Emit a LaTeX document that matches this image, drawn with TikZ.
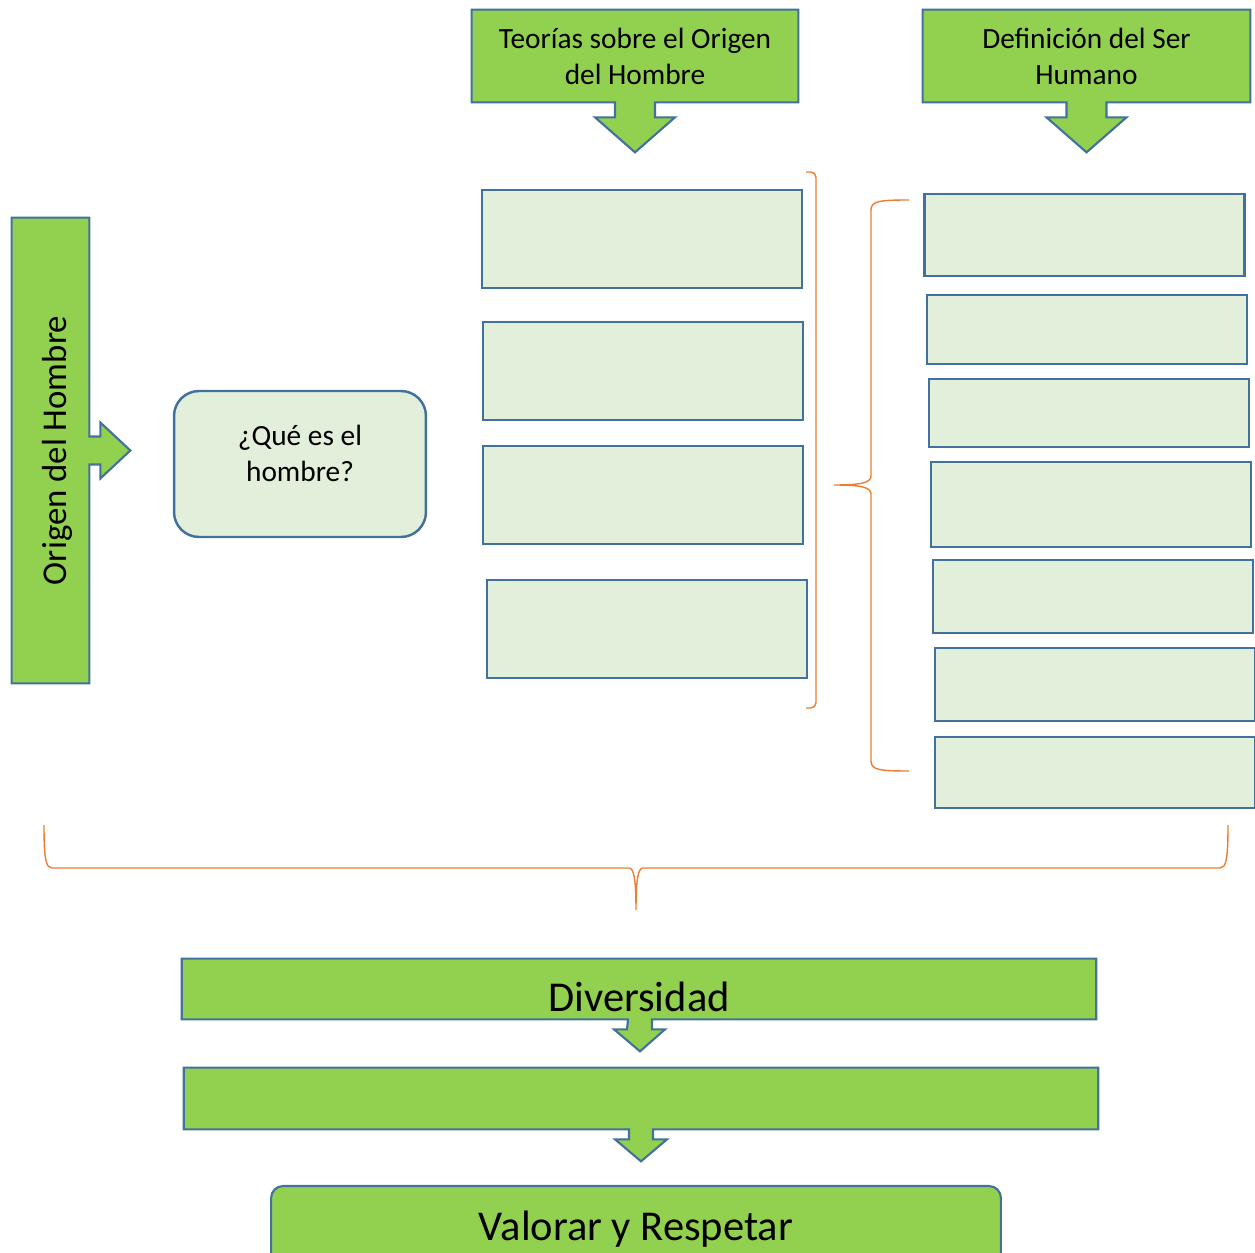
\documentclass[tikz,border=0pt]{standalone}
\usepackage{fontspec}
\setmainfont{Carlito}
\usetikzlibrary{calc,backgrounds}

\definecolor{boxgreen}{RGB}{146,208,80}
\definecolor{paleg}{RGB}{226,239,218}
\definecolor{edgeblue}{RGB}{65,113,156}
\definecolor{braceorange}{RGB}{237,125,49}

\begin{document}
\begin{tikzpicture}[x=0.02cm, y=-0.02cm,
    callout/.style={fill=boxgreen, draw=edgeblue, line width=1.2pt},
    calltext/.style={align=center, font=\fontsize{16.7}{20.5}\selectfont},
    emptybox/.style={fill=paleg, draw=edgeblue, line width=1.4pt, minimum width=6.4cm},
    brace/.style={draw=braceorange, line width=0.8pt}]
  \useasboundingbox (0,0) rectangle (1255,1253);

  \node[calltext, minimum width=6.52cm, minimum height=1.84cm] (teorias) at (635,56) {Teorías sobre el Origen\\del Hombre};
  \node[calltext, minimum width=6.54cm, minimum height=1.84cm] (definicion) at (1086.5,56) {Definición del Ser\\Humano};
  \node[minimum width=1.54cm, minimum height=9.3cm] (origen) at (50.5,450.5) {\hspace{8pt}\rotatebox{90}{\fontsize{19.8}{24}\selectfont Origen del Hombre}};
  \node[calltext, fill=paleg, draw=edgeblue, line width=1.4pt, rounded corners=0.5cm, minimum width=5.04cm, minimum height=2.92cm, text depth=12.5pt] (que) at (300,464) {¿Qué es el\\hombre?};

  \node[emptybox, minimum height=1.96cm] (t1) at (642,239) {};
  \node[emptybox, minimum height=1.96cm] (t2) at (643,371) {};
  \node[emptybox, minimum height=1.96cm] (t3) at (643,495) {};
  \node[emptybox, minimum height=1.96cm] (t4) at (647,629) {};

  \node[emptybox, minimum height=1.64cm] (d1) at (1084.5,235) {};
  \node[emptybox, minimum height=1.38cm] (d2) at (1087,329.5) {};
  \node[emptybox, minimum height=1.36cm] (d3) at (1089,413) {};
  \node[emptybox, minimum height=1.7cm] (d4) at (1091,504.5) {};
  \node[emptybox, minimum height=1.46cm] (d5) at (1093,596.5) {};
  \node[emptybox, minimum height=1.46cm] (d6) at (1095,684.5) {};
  \node[emptybox, minimum height=1.42cm] (d7) at (1095,772.5) {};

  \draw[brace, rounded corners=3] (806,172) -- (816,172) -- (816,708) -- (806,708);
  \draw[brace] (909,200) .. controls (880,200) and (871,201) .. (871,210) -- (871,476)
    .. controls (871,483) and (860,485) .. (834,485) .. controls (860,485) and (871,487) .. (871,494)
    -- (871,761) .. controls (871,770) and (880,771) .. (909,771);
  \draw[brace] (44,825) .. controls (44,860) and (46,868) .. (52,868) -- (629,868)
    .. controls (634,868) and (636,880) .. (636,910) .. controls (636,880) and (638,868) .. (643,868)
    -- (1220,868) .. controls (1226,868) and (1228,860) .. (1228,825);

  \node[minimum width=18.28cm, minimum height=1.2cm, text height=26pt, text depth=0pt, font=\fontsize{24.2}{29}\selectfont] (diversidad) at (639,989) {Diversidad};
  \node[minimum width=18.28cm, minimum height=1.22cm] (medio) at (641,1098.5) {};
  \node[callout, rounded corners=0.24cm, minimum width=14.6cm, minimum height=1.72cm, font=\fontsize{24.2}{29}\selectfont] (valorar) at (636,1229) {Valorar y Respetar};

  \begin{scope}[on background layer]
    \draw[callout] (teorias.north west) -- (teorias.north east) -- (teorias.south east) -- ($(teorias.south)+(20,0)$) -- ++(0,15) -- ++(20,0) -- ($(teorias.south)+(0,50)$) -- ($(teorias.south)+(-40,15)$) -- ++(20,0) -- ($(teorias.south)+(-20,0)$) -- (teorias.south west) -- cycle;
    \draw[callout] (definicion.north west) -- (definicion.north east) -- (definicion.south east) -- ($(definicion.south)+(20,0)$) -- ++(0,15) -- ++(20,0) -- ($(definicion.south)+(0,50)$) -- ($(definicion.south)+(-40,15)$) -- ++(20,0) -- ($(definicion.south)+(-20,0)$) -- (definicion.south west) -- cycle;
    \draw[callout] (origen.north west) -- (origen.north east) -- ($(origen.east)+(0,-14)$) -- ++(11,0) -- ++(0,-14) -- ($(origen.east)+(41,0)$) -- ($(origen.east)+(11,28)$) -- ++(0,-14) -- ($(origen.east)+(0,14)$) -- (origen.south east) -- (origen.south west) -- cycle;
    \draw[callout] (diversidad.north west) -- (diversidad.north east) -- (diversidad.south east) -- ($(diversidad.south)+(13,0)$) -- ++(0,10) -- ++(13,0) -- ($(diversidad.south)+(1,32)$) -- ($(diversidad.south)+(-25,10)$) -- ++(13,0) -- ($(diversidad.south)+(-11,0)$) -- (diversidad.south west) -- cycle;
    \draw[callout] (medio.north west) -- (medio.north east) -- (medio.south east) -- ($(medio.south)+(12,0)$) -- ++(0,10) -- ++(14,0) -- ($(medio.south)+(0,32)$) -- ($(medio.south)+(-26,10)$) -- ++(14,0) -- ($(medio.south)+(-12,0)$) -- (medio.south west) -- cycle;
  \end{scope}
\end{tikzpicture}
\end{document}
